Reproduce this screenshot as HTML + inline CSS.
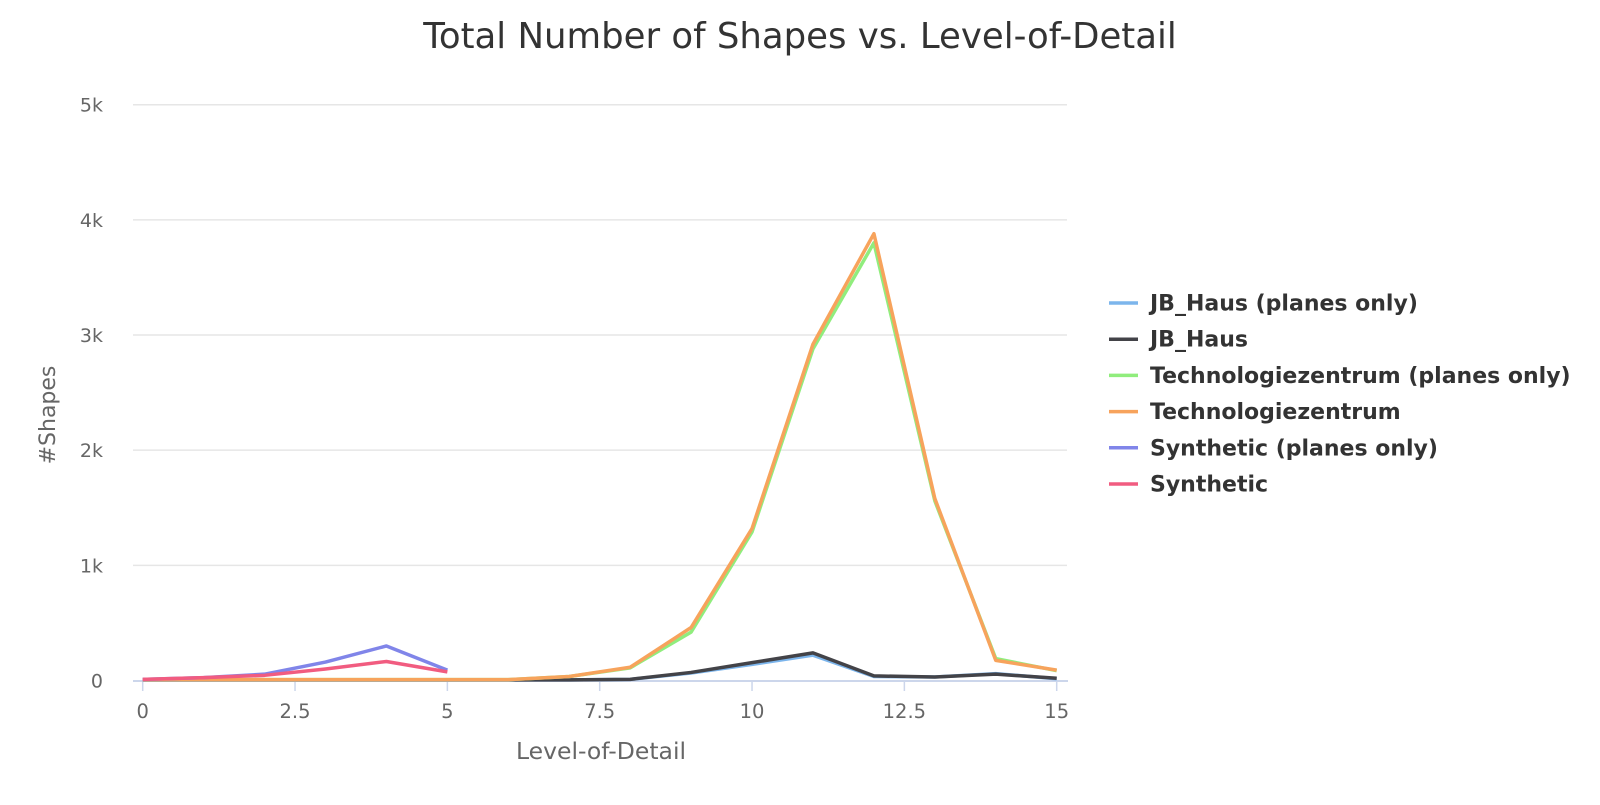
<!DOCTYPE html>
<html><head><meta charset="utf-8"><style>
body{margin:0;background:#fff;font-family:"Liberation Sans","DejaVu Sans",sans-serif}
</style></head><body>
<svg width="1600" height="800" xmlns="http://www.w3.org/2000/svg" id="c">
<text x="800" y="48" text-anchor="middle" font-size="35.5" fill="#333" font-family="DejaVu Sans, sans-serif">Total Number of Shapes vs. Level-of-Detail</text>
<g id="grid"></g><g id="series"></g><g id="legend"></g>
<text x="601" y="759" text-anchor="middle" font-size="23.5" fill="#666" font-family="DejaVu Sans, sans-serif">Level-of-Detail</text>
<text transform="translate(55,415) rotate(-90)" text-anchor="middle" font-size="22" fill="#666" font-family="DejaVu Sans, sans-serif">#Shapes</text>
</svg>
<script>
const xs=[0,1,2,3,4,5,6,7,8,9,10,11,12,13,14,15];
const names=["JB_Haus (planes only)","JB_Haus","Technologiezentrum (planes only)","Technologiezentrum","Synthetic (planes only)","Synthetic"];
const colors=["#7cb5ec","#434348","#90ed7d","#f7a35c","#8085e9","#f15c80"];
const jbPlanes=[5,5,5,5,5,5,5,5,10,65,140,220,35,30,60,15];
const jb=[5,5,5,5,5,5,5,5,10,70,155,240,40,30,55,20];
const techPlanes=[8,8,8,8,8,8,8,35,110,420,1290,2880,3800,1560,190,85];
const tech=[8,8,8,8,8,8,8,35,115,460,1320,2920,3880,1580,175,90];
const synPlanes=[10,25,55,160,300,90];
const syn=[10,25,45,100,165,75];
const yTicks=[0,1000,2000,3000,4000,5000];
const yLabels=["0","1k","2k","3k","4k","5k"];
const xTicks=[0,2.5,5,7.5,10,12.5,15];
const xLabels=["0","2.5","5","7.5","10","12.5","15"];
const ns="http://www.w3.org/2000/svg";
const X=v=>142.7+v*(1056.7-142.7)/15, Y=v=>680.5-v*(680.5-104.7)/5000;
function mk(t,a,p){const e=document.createElementNS(ns,t);for(const k in a)e.setAttribute(k,a[k]);p.appendChild(e);return e;}
const g=document.getElementById('grid');
yTicks.forEach((v,i)=>{
 if(i>0){const l=mk('line',{x1:133,x2:1067,y1:Y(v),y2:Y(v),stroke:'#e6e6e6','stroke-width':1.5},g);
 
 }
 const t=mk('text',{x:103,y:Y(v)+7,'text-anchor':'end','font-size':19,fill:'#666','font-family':'DejaVu Sans, sans-serif'},g);t.textContent=yLabels[i];
 
 
});
const ax=mk('line',{x1:133,x2:1068,y1:681,y2:681,stroke:'#ccd6eb','stroke-width':2},g);


xTicks.forEach((v,i)=>{
 mk('line',{x1:X(v),x2:X(v),y1:681,y2:691,stroke:'#ccd6eb','stroke-width':1.5},g);
 const t=mk('text',{x:X(v),y:718,'text-anchor':'middle','font-size':19.5,fill:'#666','font-family':'DejaVu Sans, sans-serif'},g);t.textContent=xLabels[i];
 
 
});
const data=[jbPlanes,jb,techPlanes,tech,synPlanes,syn];
const sg=document.getElementById('series'), lg=document.getElementById('legend');
data.forEach((d,i)=>{
 const p=mk('polyline',{points:d.map((v,j)=>X(xs[j])+','+Y(v)).join(' '),fill:'none',stroke:colors[i],'stroke-width':3.5,'stroke-linejoin':'round'},sg);
 
 
 const y=303+i*36.2;
 const it=mk('g',{},lg);
 
 
 mk('line',{x1:1109,x2:1138,y1:y,y2:y,stroke:colors[i],'stroke-width':3.5},it);
 const t=mk('text',{x:1150,y:y+7.5,'font-size':22,'font-weight':'bold',fill:'#333','font-family':'DejaVu Sans, sans-serif'},it);t.textContent=names[i];
});
</script>
</body></html>
